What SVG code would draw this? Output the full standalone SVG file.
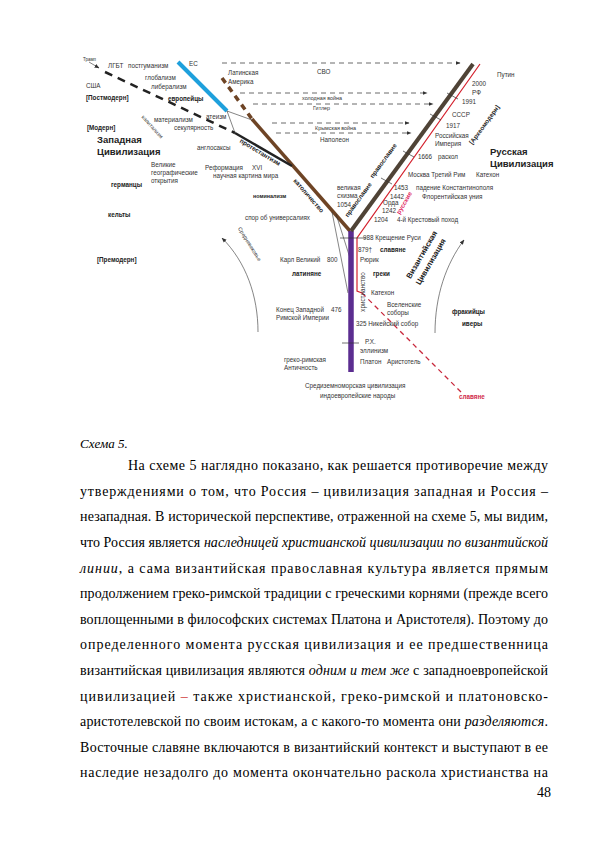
<svg xmlns="http://www.w3.org/2000/svg" width="595" height="842" viewBox="0 0 595 842">
<defs>
<style>
.t{font-family:"Liberation Sans",Arial,sans-serif;font-size:6.3px;fill:#333}
.b{font-weight:bold;fill:#222}
.s{font-size:5.4px}
.big{font-size:9.5px;font-weight:bold;fill:#222}
.body{font-family:"Liberation Serif","Times New Roman",serif;font-size:14px;fill:#000}
.i{font-style:italic}
.dash{stroke:#444;stroke-width:0.8;stroke-dasharray:5 4;fill:none}
.thin{stroke:#333;stroke-width:0.6;fill:none}
.tick{stroke:#333;stroke-width:0.7}
</style>
<marker id="ah" viewBox="0 0 10 10" refX="9" refY="5" markerWidth="5" markerHeight="5" orient="auto" markerUnits="userSpaceOnUse">
<path d="M0,1 L10,5 L0,9 z" fill="#333"/>
</marker>
</defs>
<rect width="595" height="842" fill="#fff"/>
<g id="connectors">
<line x1="222" y1="63" x2="460" y2="63" class="dash" marker-end="url(#ah)"/>
<line x1="240" y1="93" x2="427" y2="93" class="dash" marker-end="url(#ah)"/>
<line x1="253" y1="104" x2="433" y2="104" class="dash" marker-end="url(#ah)"/>
<line x1="272" y1="123" x2="409" y2="123" class="dash" marker-end="url(#ah)"/>
<line x1="276" y1="133" x2="411" y2="133" class="dash" marker-end="url(#ah)"/>
<line x1="178" y1="62" x2="227" y2="111" stroke="#1ea0dc" stroke-width="4"/>
<line x1="222" y1="78" x2="252" y2="119" stroke="#6e4425" stroke-width="3.5" stroke-dasharray="6 5"/>
<line x1="252" y1="119" x2="350" y2="231" stroke="#6e4425" stroke-width="3.5"/>
<line x1="105" y1="72" x2="235" y2="133" stroke="#222" stroke-width="2.5" stroke-dasharray="8 6"/>
<line x1="235" y1="133" x2="292" y2="166" stroke="#222" stroke-width="2.5"/>
<line x1="89" y1="62" x2="99" y2="68" class="thin" marker-end="url(#ah)"/>
<line x1="227" y1="111" x2="252" y2="120" class="thin"/>
<line x1="227" y1="111" x2="235" y2="133" class="thin"/>
<line x1="332" y1="212" x2="348" y2="293" class="thin"/>
<line x1="336" y1="214" x2="350" y2="258" class="thin"/>
<line x1="351" y1="231" x2="351" y2="372" stroke="#5b2d90" stroke-width="5.5"/>
<line x1="351" y1="231" x2="473" y2="64" stroke="#4f4336" stroke-width="4"/>
<polyline points="362,293 357,291 357,238 480,64" fill="none" stroke="#d4202c" stroke-width="1.2"/>
<line x1="362" y1="293" x2="462" y2="393" stroke="#c8283c" stroke-width="1.3" stroke-dasharray="5 4"/>
<line x1="447" y1="93" x2="458" y2="99" class="tick"/>
<line x1="430" y1="114" x2="441" y2="120" class="tick"/>
<line x1="403" y1="151" x2="414" y2="157" class="tick"/>
<line x1="381" y1="178" x2="392" y2="184" class="tick"/>
<line x1="340" y1="238" x2="366" y2="238" class="tick"/>
<line x1="342" y1="343" x2="359" y2="343" class="tick"/>
<path d="M258,332 C258,296 246,262 222,238" class="thin" stroke-width="0.8" marker-end="url(#ah)"/>
<path d="M435,333 C435,296 446,264 464,240" class="thin" stroke-width="0.8" marker-end="url(#ah)"/>
</g>
<g id="west" class="t">
<text x="83" y="61" style="font-size:4.5px">Трамп</text>
<text x="108" y="68">ЛГБТ</text>
<text x="128" y="68">постгуманизм</text>
<text x="86" y="88">США</text>
<text x="145" y="80">глобализм</text>
<text x="151" y="89">либерализм</text>
<text x="86" y="100" class="b">[Постмодерн]</text>
<text x="168" y="101" class="b">европейцы</text>
<text x="189" y="66">ЕС</text>
<text x="206" y="119">атеизм</text>
<text x="154" y="122">материализм</text>
<text x="174" y="130">секулярность</text>
<text class="s" text-anchor="middle" transform="translate(151,128) rotate(48)">капитализм</text>
<text x="87" y="130" class="b">[Модерн]</text>
<text x="97" y="143" class="big">Западная</text>
<text x="97" y="155" class="big">Цивилизация</text>
<text x="197" y="150">англосаксы</text>
<text class="b" text-anchor="middle" transform="translate(259,154) rotate(31)">протестантизм</text>
<text x="151" y="167">Великие</text>
<text x="151" y="175">географические</text>
<text x="151" y="183">открытия</text>
<text x="205" y="170">Реформация</text>
<text x="252" y="170">XVI</text>
<text x="213" y="178">научная картина мира</text>
<text x="111" y="187" class="b">германцы</text>
<text x="108" y="217" class="b">кельты</text>
<text x="97" y="262" class="b">[Премодерн]</text>
<text x="253" y="198" class="b s">номинализм</text>
<text class="b" text-anchor="middle" transform="translate(307,197) rotate(49)">католичество</text>
<text x="245" y="220">спор об универсалиях</text>
<text x="337" y="190">великая</text>
<text x="337" y="198">схизма</text>
<text x="337" y="207">1054</text>
<text class="s" text-anchor="middle" transform="translate(248,245) rotate(58)">Средневековье</text>
<text x="280" y="262">Карл Великий</text>
<text x="327" y="262">800</text>
<text x="292" y="276" class="b">латиняне</text>
<text x="276" y="312">Конец Западной</text>
<text x="331" y="312">476</text>
<text x="276" y="320">Римской Империи</text>
<text x="284" y="362">греко-римская</text>
<text x="284" y="370">Античность</text>
</g>
<g id="antiquity" class="t">
<text text-anchor="middle" transform="translate(365,292) rotate(-90)">христианство</text>
<text x="373" y="276" class="b">греки</text>
<text x="371" y="295">Катехон</text>
<text x="387" y="307">Вселенские</text>
<text x="387" y="315">соборы</text>
<text x="356" y="326">325 Никейский собор</text>
<text x="365" y="344">Р.Х.</text>
<text x="360" y="353">эллинизм</text>
<text x="360" y="364">Платон</text>
<text x="387" y="364">Аристотель</text>
<text x="305" y="388">Средиземноморская цивилизация</text>
<text x="320" y="398">индоевропейские народы</text>
<text x="459" y="399" class="b" style="fill:#d12a4a">славяне</text>
<text x="452" y="314" class="b">фракийцы</text>
<text x="462" y="326" class="b">иверы</text>
</g>
<g id="modern" class="t">
<text x="317" y="74">СВО</text>
<text x="228" y="75">Латинская</text>
<text x="228" y="84">Америка</text>
<text x="302" y="100" class="s">холодная война</text>
<text x="313" y="110" class="s">Гитлер</text>
<text x="315" y="130" class="s">Крымская война</text>
<text x="320" y="142">Наполеон</text>
</g>
<g id="russia" class="t">
<text x="497" y="77">Путин</text>
<text x="472" y="86">2000</text>
<text x="472" y="95">РФ</text>
<text x="462" y="104">1991</text>
<text x="452" y="117">СССР</text>
<text x="446" y="128">1917</text>
<text x="435" y="138">Российская</text>
<text x="435" y="146">Империя</text>
<text x="418" y="159">1666</text>
<text x="438" y="159">раскол</text>
<text class="b" text-anchor="middle" transform="translate(486,126) rotate(-54)">[Археомодерн]</text>
<text x="490" y="155" class="big">Русская</text>
<text x="490" y="167" class="big">Цивилизация</text>
<text x="408" y="177">Москва Третий Рим</text>
<text x="476" y="177">Катехон</text>
<text x="394" y="190">1453</text>
<text x="416" y="190">падение Константинополя</text>
<text x="390" y="199">1442</text>
<text x="422" y="199">Флорентийская уния</text>
<text x="383" y="205">Орда</text>
<text x="382" y="213">1242</text>
<text class="b" text-anchor="middle" style="fill:#e0245e" transform="translate(406,204) rotate(-60)">русские</text>
<text x="374" y="222">1204</text>
<text x="397" y="222">4-й Крестовый поход</text>
<text x="363" y="240">988 Крещение Руси</text>
<text x="358" y="252">879†</text>
<text x="380" y="252" class="b">славяне</text>
<text x="360" y="262">Рюрик</text>
<text class="b" text-anchor="middle" transform="translate(360,201) rotate(-54)">православие</text>
<text class="b" text-anchor="middle" transform="translate(385,162) rotate(-54)">православие</text>
<text class="b" text-anchor="middle" style="font-size:7.8px" transform="translate(424,256) rotate(-60)">Византийская</text>
<text class="b" text-anchor="middle" style="font-size:7.8px" transform="translate(433,263) rotate(-60)">Цивилизация</text>
</g>
<g id="caption">
<text x="80" y="448" class="body i" style="font-size:13px">Схема 5.</text>
</g>
<g id="bodytext" class="body">
<text x="128" y="470" textLength="420" lengthAdjust="spacing">На схеме 5 наглядно показано, как решается противоречие между</text>
<text x="80" y="496" textLength="468" lengthAdjust="spacing">утверждениями о том, что Россия – цивилизация западная и Россия –</text>
<text x="80" y="521" textLength="468" lengthAdjust="spacing">незападная. В исторической перспективе, отраженной на схеме 5, мы видим,</text>
<text x="80" y="547" textLength="468" lengthAdjust="spacing">что Россия является <tspan class="i">наследницей христианской цивилизации по византийской</tspan></text>
<text x="80" y="573" textLength="468" lengthAdjust="spacing"><tspan class="i">линии</tspan>, а сама византийская православная культура является прямым</text>
<text x="80" y="598" textLength="468" lengthAdjust="spacing">продолжением греко-римской традиции с греческими корнями (прежде всего</text>
<text x="80" y="624" textLength="468" lengthAdjust="spacing">воплощенными в философских системах Платона и Аристотеля). Поэтому до</text>
<text x="80" y="649" textLength="468" lengthAdjust="spacing">определенного момента русская цивилизация и ее предшественница</text>
<text x="80" y="675" textLength="468" lengthAdjust="spacing">византийская цивилизация являются <tspan class="i">одним и тем же</tspan> с западноевропейской</text>
<text x="80" y="701" textLength="468" lengthAdjust="spacing">цивилизацией <tspan fill="#d04040">–</tspan> также христианской, греко-римской и платоновско-</text>
<text x="80" y="726" textLength="468" lengthAdjust="spacing">аристотелевской по своим истокам, а с какого-то момента они <tspan class="i">разделяются</tspan>.</text>
<text x="80" y="752" textLength="468" lengthAdjust="spacing">Восточные славяне включаются в византийский контекст и выступают в ее</text>
<text x="80" y="777" textLength="468" lengthAdjust="spacing">наследие незадолго до момента окончательно раскола христианства на</text>
<text x="537" y="797">48</text>
</g>
</svg>
